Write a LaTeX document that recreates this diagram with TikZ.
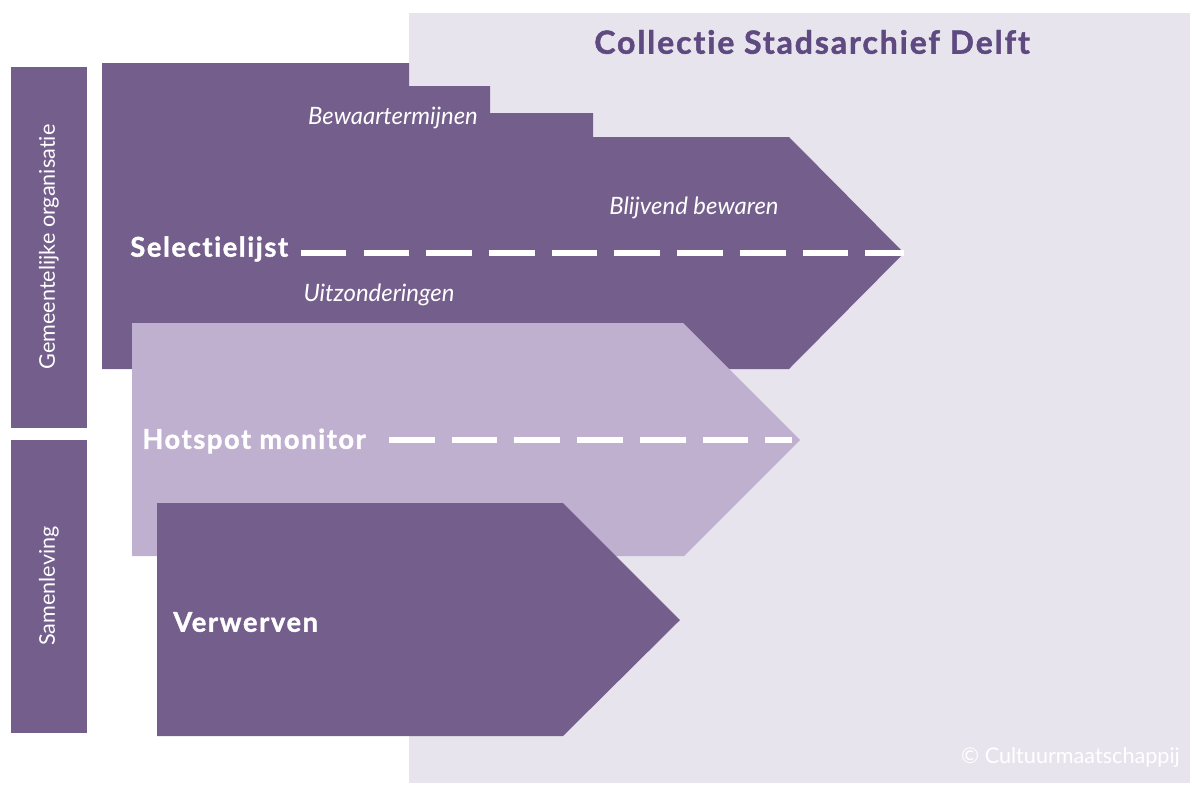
\documentclass[tikz,border=0pt]{standalone}
\usepackage{fontspec}
\setmainfont{Lato}[Ligatures=NoCommon]
\newfontfamily\zwaar{Lato}[Ligatures=NoCommon,BoldFeatures={FakeBold=1.4},LetterSpace=6]
\definecolor{paars}{HTML}{745E8C}
\definecolor{lichtpaars}{HTML}{BFB0D0}
\definecolor{achtergrond}{HTML}{E8E4EE}
\definecolor{titelpaars}{HTML}{5E4A80}
\begin{document}
\begin{tikzpicture}[x=0.02cm,y=-0.02cm,
  kop/.style={text=white,font=\zwaar\bfseries\fontsize{15.5}{18}\selectfont,anchor=west,inner sep=0pt},
  sub/.style={text=white,font=\itshape\fontsize{13.6}{16}\selectfont,inner sep=0pt},
  zij/.style={text=white,font=\fontsize{12.3}{14}\selectfont,rotate=90,inner sep=0pt},
  streep/.style={white,line width=3pt,dash pattern=on 26pt off 9.7pt}]
\useasboundingbox (0,0) rectangle (1193,785);
\fill[achtergrond] (409,13) rectangle (1190,783);
\fill[paars] (11,67) rectangle (87,428);
\fill[paars] (11,440) rectangle (87,733);
\fill[paars] (102,63) -- (409,63) -- (409,86) -- (490,86) -- (490,113) -- (593,113)
  -- (593,137) -- (789,137) -- (904,253) -- (789,369) -- (102,369) -- cycle;
\fill[lichtpaars] (132,323) -- (683,323) -- (800,440) -- (684,556) -- (132,556) -- cycle;
\fill[paars] (157,503) -- (563,503) -- (680,620) -- (563,736) -- (157,736) -- cycle;
\coordinate (punt1) at (904,253);
\coordinate (punt2) at (792,440);
\node[text=titelpaars,font=\zwaar\bfseries\fontsize{18.2}{21}\selectfont] (titel) at (812,42) {Collectie Stadsarchief Delft};
\node[zij] (gemeente) at (49,247) {Gemeentelijke organisatie};
\node[zij] (samenleving) at (49,586) {Samenleving};
\node[sub] (termijnen) at (393,118) {Bewaartermijnen};
\node[sub] (blijvend) at (694,208) {Blijvend bewaren};
\node[sub] (uitzondering) at (379,295) {Uitzonderingen};
\node[kop] (selectie) at (130,249) {Selectielijst};
\node[kop] (hotspot) at (142,441) {Hotspot monitor};
\node[kop] (verwerven) at (173,622) {Verwerven};
\node[text=white,font=\fontsize{12.3}{15}\selectfont,anchor=east] (copy) at (1186,757) {© Cultuurmaatschappij};
\draw[streep] ([xshift=7pt]selectie.east |- punt1) -- (punt1);
\draw[streep] ([xshift=13pt]hotspot.east |- punt2) -- (punt2);
\end{tikzpicture}
\end{document}
